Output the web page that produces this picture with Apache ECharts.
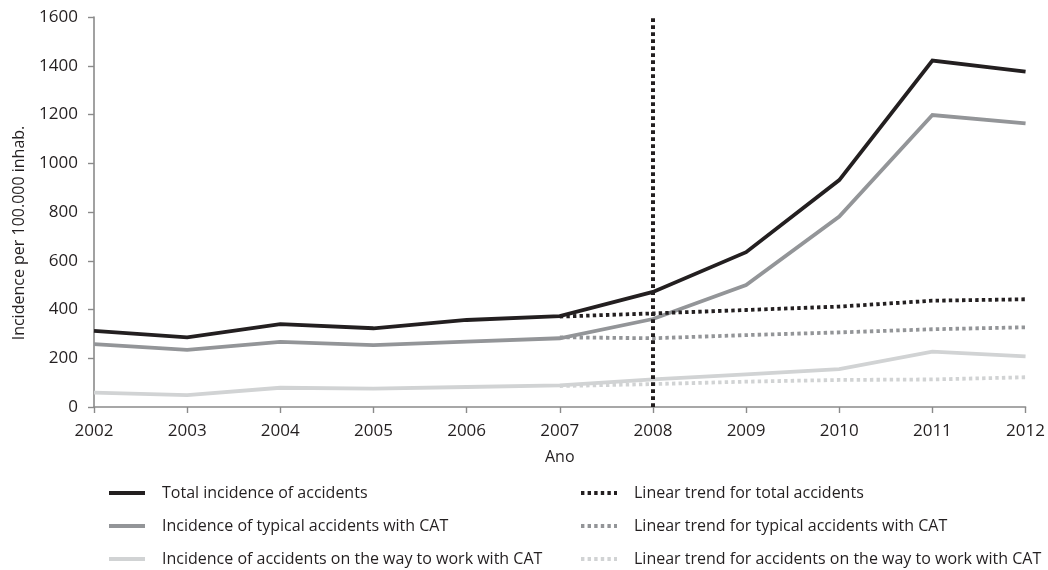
<!DOCTYPE html>
<html><head><meta charset="utf-8">
<script src="https://cdn.jsdelivr.net/npm/echarts@6/dist/echarts.min.js"></script>
<style>html,body{margin:0;padding:0;background:#fff}#c{width:1048px;height:570px}</style>
</head><body><div id="c"></div>
<script>
const years = ['2002','2003','2004','2005','2006','2007','2008','2009','2010','2011','2012'];
const totalIncidence = [312, 286, 340, 323, 357, 373, 472, 635, 931, 1421, 1376];
const typicalIncidence = [258, 234, 267, 254, 268, 282, 361, 500, 781, 1198, 1164];
const wayIncidence = [59, 49, 79, 75, 82, 89, 113, 134, 155, 227, 208];
const trendTotal = ['-', '-', '-', '-', '-', 371, 384, 398, 412, 436, 442];
const trendTypical = ['-', '-', '-', '-', '-', 286, 282, 295, 306, 319, 327];
const trendWay = ['-', '-', '-', '-', '-', 86, 94, 104, 111, 113, 122];
const yTicks = [0, 200, 400, 600, 800, 1000, 1200, 1400, 1600];
const markYear = '2008';
const names = ['Total incidence of accidents','Incidence of typical accidents with CAT','Incidence of accidents on the way to work with CAT','Linear trend for total accidents','Linear trend for typical accidents with CAT','Linear trend for accidents on the way to work with CAT'];
const FONT = '"Open Sans"';
const c1 = '#231f20', c2 = '#939598', c3 = '#d1d3d4';
const chart = echarts.init(document.getElementById('c'));
function solid(name, data, color){
  return {name, type:'line', data, symbol:'none', smooth:false, color,
    lineStyle:{color, width:3.8, cap:'butt', join:'miter'}, z:2};
}
function dotted(name, data, color){
  return {name, type:'line', data, symbol:'none', color,
    lineStyle:{color, width:3.8, type:[3.4,3.2], cap:'butt'}, z:3};
}
const s4 = dotted(names[3], trendTotal, c1);
s4.markLine = {silent:true, symbol:['none','none'], label:{show:false},
  lineStyle:{color:c1, width:4, type:[3.8,3.2], cap:'butt'},
  data:[{xAxis: markYear}], z:10};
const legendCommon = {orient:'vertical', top:485, height:120, padding:0, itemWidth:36, itemHeight:14, itemGap:17,
  itemStyle:{opacity:0}, lineStyle:{width:4},
  textStyle:{fontFamily:FONT, fontSize:16, color:'#231f20', padding:[0,0,0,12]}, selectedMode:false};
chart.setOption({
  animation:false,
  backgroundColor:'#fff',
  grid:{left:94, right:22, top:17, bottom:163},
  legend:[
    Object.assign({left:107, data:names.slice(0,3)}, legendCommon),
    Object.assign({left:579, data:names.slice(3)}, legendCommon)
  ],
  graphic:[{type:'text', x:19, y:233, rotation:Math.PI/2,
    style:{text:'Incidence per 100.000 inhab.', fill:'#231f20', font:'16px '+FONT, align:'center', verticalAlign:'middle'}}],
  xAxis:{type:'category', data:years, boundaryGap:false,
    name:'Ano', nameLocation:'middle', nameGap:42,
    nameTextStyle:{fontFamily:FONT, fontSize:16, color:'#231f20'},
    axisLine:{lineStyle:{color:'#8a8a8a', width:1.6}},
    axisTick:{show:true, length:6, alignWithLabel:true, lineStyle:{color:'#8a8a8a', width:1.4}},
    axisLabel:{fontFamily:FONT, fontSize:17, color:'#231f20', margin:16},
    splitLine:{show:false}},
  yAxis:{type:'value', min:yTicks[0], max:yTicks[yTicks.length-1], interval:200,
    axisLine:{show:true, lineStyle:{color:'#8a8a8a', width:1.6}},
    axisTick:{show:true, length:6, lineStyle:{color:'#8a8a8a', width:1.4}},
    axisLabel:{fontFamily:FONT, fontSize:17, color:'#231f20', margin:16, formatter:v=>String(v)},
    splitLine:{show:false}},
  series:[
    solid(names[0], totalIncidence, c1),
    solid(names[1], typicalIncidence, c2),
    solid(names[2], wayIncidence, c3),
    s4,
    dotted(names[4], trendTypical, c2),
    dotted(names[5], trendWay, c3)
  ]
});
</script></body></html>
